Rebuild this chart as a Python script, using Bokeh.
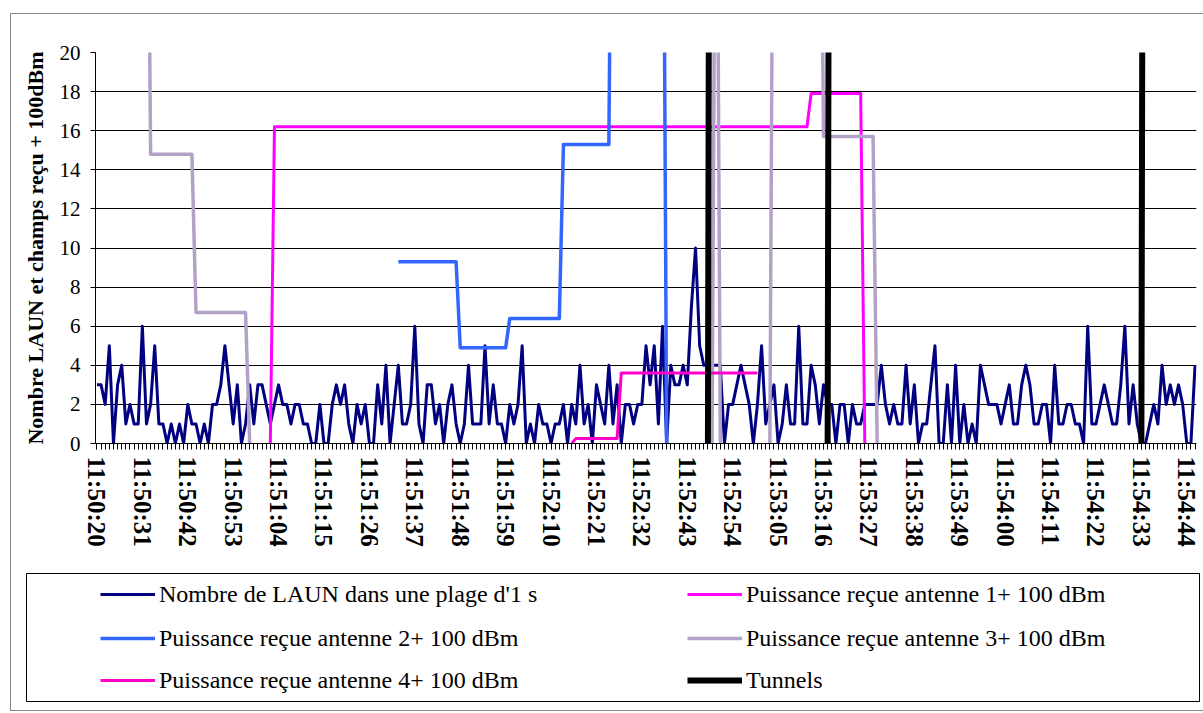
import numpy as np
from bokeh.plotting import figure
from bokeh.models import Range1d, FixedTicker, Legend, LegendItem
from bokeh.layouts import column
from bokeh.embed import file_html
from bokeh.resources import INLINE

# ---------------- data ----------------
start_time = "11:50:20"
tick_labels = ["11:50:20", "11:50:31", "11:50:42", "11:50:53", "11:51:04",
               "11:51:15", "11:51:26", "11:51:37", "11:51:48", "11:51:59",
               "11:52:10", "11:52:21", "11:52:32", "11:52:43", "11:52:54",
               "11:53:05", "11:53:16", "11:53:27", "11:53:38", "11:53:49",
               "11:54:00", "11:54:11", "11:54:22", "11:54:33", "11:54:44"]

# Nombre de LAUN dans une plage d'1 s (one value per second from 11:50:20)
laun = [3, 3, 2, 5, 0, 3, 4, 1, 2, 1, 1, 6, 1, 2, 5, 1, 1, 0, 1, 0,
        1, 0, 2, 1, 1, 0, 1, 0, 2, 2, 3, 5, 3, 1, 3, 0, 1, 3, 1, 3,
        3, 2, 1, 2, 3,
        2, 2, 1, 2, 2, 1, 1, 0, 0, 2, 0, 0, 2, 3, 2, 3, 1, 0, 2, 1,
        2, 0, 0, 3, 1, 4, 0, 2, 4, 1, 1, 2, 6, 1, 0, 3, 3, 1, 2, 0,
        2, 3, 1, 0, 1, 4,
        1, 1, 1, 5, 1, 3, 1, 1, 0, 2, 1, 2, 5, 0, 1, 0, 2, 1, 1, 0,
        1, 1, 2, 0, 2, 1, 4, 1, 2, 0, 3, 2, 1, 4, 1, 3, 0, 2, 2, 1,
        2, 2, 5,
        3, 5, 1, 6, 0, 4, 3, 3, 4, 3, 7, 10, 5, 4, 4, 4, 4, 4, 0, 2,
        2, 3, 4, 3, 2, 0, 2, 5, 1, 2, 3, 0, 1, 3, 1, 1, 6, 1, 1, 4,
        3, 1, 3, 2, 2, 0, 2, 2, 0,
        2, 1, 1, 2, 2, 2, 2, 4, 2, 1, 2, 1, 1, 4, 1, 3, 0, 1, 1, 3,
        5, 0, 0, 3, 0, 4, 0, 2, 0, 1, 0, 4, 3, 2, 2, 2, 1, 2, 3, 1,
        1, 3, 4, 3, 1, 1,
        2, 2, 0, 4, 1, 1, 2, 2, 1, 1, 0, 6, 1, 1, 2, 3, 2, 1, 1, 3,
        6, 1, 3, 1, 0, 0, 1, 2, 1, 4, 2, 3, 2, 3, 2, 0, 0, 4]

# Received power + 100 dBm (None = no measurement; 40 = off scale, above 20)
ant1 = [None] * 42 + [0.0] + [16.2] * 130 + [17.9] * 13 + [0.0] + [None] * 80
ant2 = ([None] * 73 + [9.3] * 15 + [4.9] * 12 + [6.4] * 13 + [15.3] * 12
        + [40.0] * 13 + [0.0] + [None] * 128)
ant3 = ([None] * 12 + [40.0] + [14.8] * 11 + [6.7] * 13 + [0.0] + [None] * 111
        + [0.0, 40.0, 0.0] + [None] * 11 + [0.0] + [40.0] * 12 + [15.7] * 13
        + [0.0] + [None] * 77)
ant4 = [None] * 115 + [0.0] + [0.25] * 11 + [3.6] * 34 + [None] * 106
tunnels = ([None] * 148 + [0.0, 100.0] + [None] * 27 + [0.0, 100.0]
           + [None] * 74 + [0.0, 100.0] + [None] * 12)

series_names = ["Nombre de LAUN dans une plage d'1 s",
                "Puissance reçue antenne 1+ 100 dBm",
                "Puissance reçue antenne 2+ 100 dBm",
                "Puissance reçue antenne 3+ 100 dBm",
                "Puissance reçue antenne 4+ 100 dBm",
                "Tunnels"]

# ---------------- derived ----------------
def secs(t):
    h, m, s = (int(v) for v in t.split(":"))
    return h * 3600 + m * 60 + s

t0 = secs(start_time)
n = len(laun)
x = np.arange(n)
tick_pos = [secs(t) - t0 for t in tick_labels]

styles = [
    dict(line_color="#000080", line_width=3),
    dict(line_color="#FF00FF", line_width=3),
    dict(line_color="#3366FF", line_width=3.5),
    dict(line_color="#B3A2C7", line_width=3.5),
    dict(line_color="#FF00CC", line_width=3),
    dict(line_color="#000000", line_width=6),
]
data = [laun, ant1, ant2, ant3, ant4, tunnels]

FONT = "Liberation Serif"


def no_align(fig):
    try:
        fig.frame_align = False
    except Exception:
        pass


# ---------------- main chart ----------------
p = figure(width=1192, height=546, x_range=Range1d(-0.35, 266.35),
           y_range=Range1d(0, 20), toolbar_location=None,
           output_backend="svg", min_border_left=84, min_border_right=7,
           min_border_top=38, min_border_bottom=117)
no_align(p)
p.outline_line_color = None
p.background_fill_color = "white"
p.border_fill_color = "white"

for vals, st in zip(data, styles):
    p.line(x, np.array(vals, dtype=float), line_join="round", **st)

xt = FixedTicker(ticks=tick_pos, minor_ticks=list(range(n)))
p.xaxis.ticker = xt
p.xaxis.major_label_overrides = {pos: lab for pos, lab in zip(tick_pos, tick_labels)}
p.xaxis.major_label_orientation = "vertical"
p.xaxis.major_label_text_font = FONT
p.xaxis.major_label_text_font_style = "bold"
p.xaxis.major_label_text_font_size = "25px"
p.xaxis.major_label_text_color = "black"
p.xaxis.major_label_standoff = 7
p.xaxis.major_tick_in = 0
p.xaxis.major_tick_out = 6
p.xaxis.minor_tick_in = 0
p.xaxis.minor_tick_out = 6
p.xaxis.major_tick_line_color = "black"
p.xaxis.minor_tick_line_color = "black"
p.xaxis.axis_line_color = "black"
p.xgrid.grid_line_color = None

yt = FixedTicker(ticks=list(range(0, 21, 2)))
p.yaxis.ticker = yt
p.ygrid.ticker = yt
p.ygrid.grid_line_color = "black"
p.ygrid.grid_line_width = 1
p.yaxis.major_label_text_font = FONT
p.yaxis.major_label_text_font_size = "21px"
p.yaxis.major_label_text_color = "black"
p.yaxis.major_label_standoff = 10
p.yaxis.major_tick_in = 0
p.yaxis.major_tick_out = 5
p.yaxis.minor_tick_line_color = None
p.yaxis.major_tick_line_color = "black"
p.yaxis.axis_line_color = "black"
p.yaxis.axis_label = "Nombre LAUN et champs reçu + 100dBm"
p.yaxis.axis_label_text_font = FONT
p.yaxis.axis_label_text_font_style = "bold"
p.yaxis.axis_label_text_font_size = "22px"
p.yaxis.axis_label_text_color = "black"
p.yaxis.axis_label_standoff = 9

# ---------------- legend panel ----------------
lf = figure(width=1192, height=150, x_range=Range1d(0, 1), y_range=Range1d(0, 1),
            x_axis_type=None, y_axis_type=None, toolbar_location=None,
            output_backend="svg", min_border_left=15, min_border_right=4,
            min_border_top=13, min_border_bottom=9)
no_align(lf)
lf.grid.visible = False
lf.outline_line_color = "black"
lf.outline_line_width = 1
lf.background_fill_color = "white"
lf.border_fill_color = "white"

dummies = [lf.line([np.nan], [np.nan], **st) for st in styles]
col_x = [74, 661]
row_y = [92, 48, 6]
for k, (name, r) in enumerate(zip(series_names, dummies)):
    leg = Legend(items=[LegendItem(label=name, renderers=[r])],
                 location=(col_x[k % 2], row_y[k // 2]),
                 padding=0, margin=0, border_line_alpha=0,
                 background_fill_alpha=0, glyph_width=55, glyph_height=30,
                 label_height=30, label_standoff=4,
                 label_text_font=FONT, label_text_font_size="24px",
                 label_text_color="black")
    lf.add_layout(leg)

layout = column(p, lf, spacing=0,
                styles={"margin-left": "10px", "margin-top": "13px",
                        "border-left": "1px solid #868686",
                        "border-top": "1px solid #868686",
                        "border-bottom": "1px solid #868686"})

open("out.html", "w").write(file_html(layout, INLINE))
